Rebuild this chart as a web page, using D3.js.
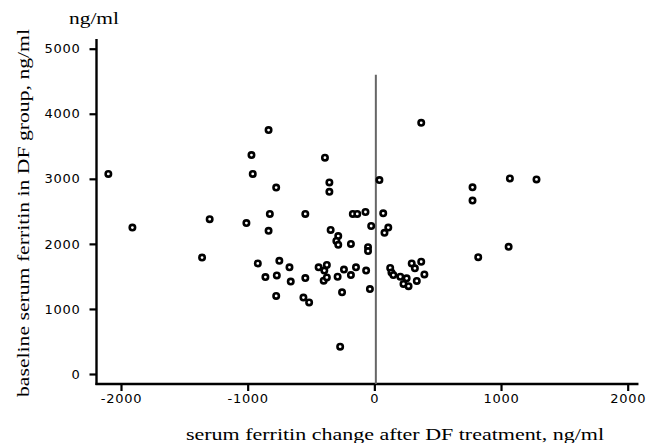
<!DOCTYPE html>
<html>
<head>
<meta charset="utf-8">
<script src="https://cdn.jsdelivr.net/npm/d3@7"></script>
<style>
  html, body { margin: 0; padding: 0; background: #fff; }
  svg { display: block; }
  .tick text { font-family: "DejaVu Sans", sans-serif; font-size: 13px; letter-spacing: 0.7px; fill: #000; }
  .title { font-family: "Liberation Serif", "Times New Roman", serif; font-size: 16px; fill: #000; }
</style>
</head>
<body>
<svg id="chart" width="646" height="443"></svg>
<script>
// Change in serum ferritin after DF treatment (x) vs baseline ferritin (y), ng/ml
const changeVals = [
  -2100, -1910, -1360, -1300, -1010, -970, -960, -920, -860, -835,
  -835, -825, -775, -775, -750, -770, -670, -660, -545, -545,
  -560, -515, -440, -375, -395, -400, -375, -390, -355, -355,
  -345, -285, -300, -285, -185, -290, -240, -185, -145, -65,
  -255, -270, -170, -135, -70, 70, -25, 110, 80, -50,
  -50, -35, 40, 370, 125, 135, 150, 205, 255, 230,
  270, 335, 295, 320, 370, 395, 775, 775, 820, 1060,
  1070, 1280
];
const baselineVals = [
  3075, 2250, 1790, 2380, 2320, 3365, 3075, 1700, 1490, 3750,
  2200, 2460, 2865, 1200, 1740, 1515, 1640, 1420, 2460, 1475,
  1175, 1100, 1640, 1675, 1590, 1435, 1485, 3325, 2945, 2800,
  2215, 2120, 2045, 1985, 2000, 1495, 1605, 1520, 1640, 1590,
  1255, 420, 2460, 2460, 2490, 2470, 2275, 2250, 2170, 1950,
  1890, 1305, 2980, 3860, 1630, 1560, 1520, 1495, 1470, 1385,
  1350, 1430, 1700, 1625, 1725, 1530, 2870, 2665, 1795, 1955,
  3005, 2990
];
const xTicks = [-2000, -1000, 0, 1000, 2000];
const yTicks = [0, 1000, 2000, 3000, 4000, 5000];

const svg = d3.select("#chart");

const x = d3.scaleLinear().domain([-2000, 2000]).range([121, 627.7]);
const y = d3.scaleLinear().domain([0, 5000]).range([374, 48.7]);

const xAxisY = 384;
const yAxisX = 96.5;

// y axis
const gy = svg.append("g")
  .attr("transform", `translate(${yAxisX},0)`)
  .call(d3.axisLeft(y).tickValues(yTicks).tickSize(7).tickPadding(9).tickFormat(d3.format("d")));
gy.select(".domain").remove();
gy.selectAll(".tick line").attr("stroke", "#000").attr("stroke-width", 2.2);
gy.append("line")
  .attr("x1", 0).attr("x2", 0)
  .attr("y1", y(5150)).attr("y2", xAxisY + 1)
  .attr("stroke", "#000").attr("stroke-width", 2.4);

// x axis
const gx = svg.append("g")
  .attr("transform", `translate(0,${xAxisY})`)
  .call(d3.axisBottom(x).tickValues(xTicks).tickSize(7).tickPadding(3).tickFormat(d3.format("d")));
gx.select(".domain").remove();
gx.selectAll(".tick line").attr("stroke", "#000").attr("stroke-width", 2.2);
gx.selectAll(".tick text").text(d => d < 0 ? "-" + Math.abs(d) : d);
gx.append("line")
  .attr("x1", yAxisX - 1).attr("x2", x(2085))
  .attr("y1", 0).attr("y2", 0)
  .attr("stroke", "#000").attr("stroke-width", 2.4);

// zero-change reference line
svg.append("line")
  .attr("x1", x(0) + 1.5).attr("x2", x(0) + 1.5)
  .attr("y1", y(4600)).attr("y2", xAxisY)
  .attr("stroke", "#666").attr("stroke-width", 2);

// points
const pts = changeVals.map((c, i) => ({ c, b: baselineVals[i] }));
svg.append("g").selectAll("circle").data(pts).join("circle")
  .attr("cx", d => x(d.c))
  .attr("cy", d => y(d.b))
  .attr("r", 2.7)
  .attr("fill", "#fff")
  .attr("stroke", "#000")
  .attr("stroke-width", 2.6);

// titles
svg.append("text").attr("class", "title")
  .attr("x", 69).attr("y", 24)
  .attr("textLength", 50).attr("lengthAdjust", "spacingAndGlyphs")
  .text("ng/ml");

svg.append("text").attr("class", "title")
  .attr("x", 186).attr("y", 440)
  .attr("textLength", 418).attr("lengthAdjust", "spacingAndGlyphs")
  .text("serum ferritin change after DF treatment, ng/ml");

svg.append("text").attr("class", "title")
  .attr("transform", "translate(29,397) rotate(-90)")
  .attr("x", 0).attr("y", 0)
  .attr("textLength", 368).attr("lengthAdjust", "spacingAndGlyphs")
  .text("baseline serum ferritin in DF group, ng/ml");
</script>
</body>
</html>
